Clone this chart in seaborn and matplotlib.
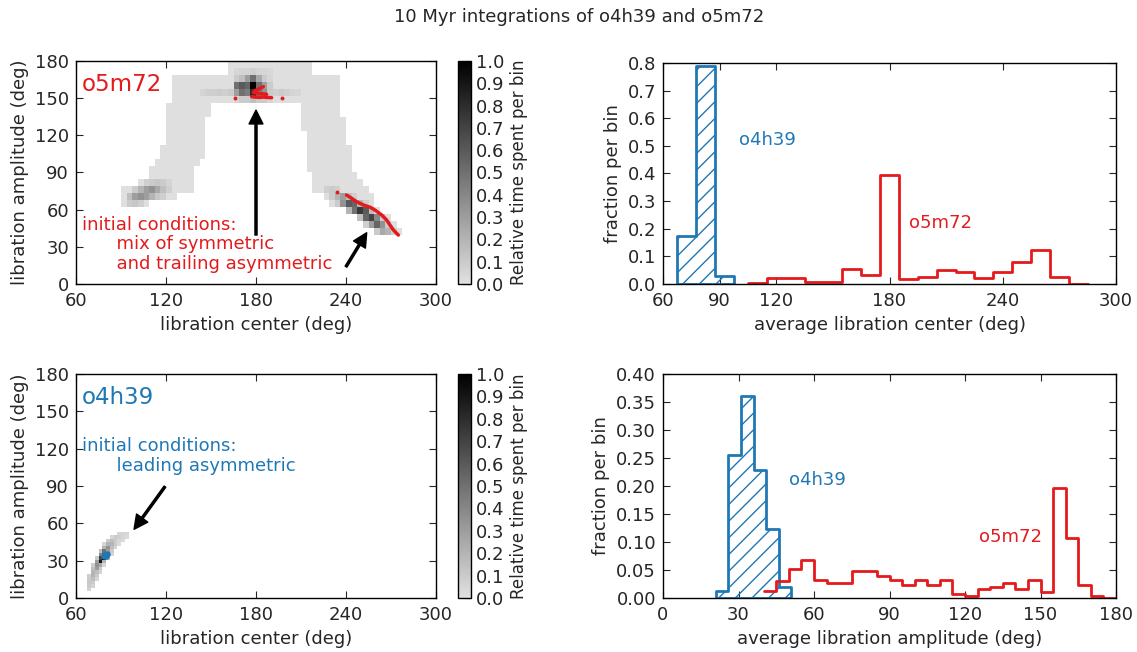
import numpy as np
import pandas as pd
import matplotlib
matplotlib.use('Agg')
import matplotlib.pyplot as plt
from matplotlib.colors import LinearSegmentedColormap
import seaborn as sns

RED = '#e41a1c'
BLUE = '#1f78b4'

# ---- 2D histogram of o5m72 (top left) ----
# bins of 3.75 deg in libration center (from 60) and 5.625 deg in amplitude (from 0)
TOP_DX, TOP_DY = 3.75, 5.625
TOP_BASE = 0.01
# (row, first col, last col) of faintly occupied bins
TOP_LIGHT = [
    (31, 27, 41), (30, 27, 41),
    (29, 17, 46), (28, 17, 46), (27, 17, 46), (26, 17, 46),
    (25, 16, 23), (25, 40, 46), (24, 16, 23), (24, 40, 46),
    (23, 16, 22), (23, 40, 47), (22, 16, 22), (22, 40, 47),
    (21, 16, 22), (21, 41, 47), (20, 16, 22), (20, 41, 47),
    (19, 15, 22), (19, 41, 48), (18, 15, 22), (18, 41, 48),
    (17, 14, 21), (17, 41, 48), (16, 13, 20), (16, 41, 48),
    (15, 13, 20), (15, 42, 49), (14, 11, 20), (14, 42, 50),
    (13, 8, 20), (13, 42, 51), (12, 8, 17), (12, 44, 52),
    (11, 8, 12), (11, 45, 52), (10, 48, 53), (9, 50, 55),
    (8, 51, 56), (7, 53, 57),
]
# (row, first col, values) of darker bins
TOP_DARK = [
    (30, 28, [0.05, 0.06, 0.06, 0.08, 0.06, 0.05, 0.04]),
    (29, 28, [0.1, 0.15, 0.3, 0.5, 0.25, 0.1, 0.05]),
    (28, 28, [0.5, 0.6, 0.55, 1.0, 0.5, 0.3, 0.1]),
    (27, 22, [0.06, 0.08, 0.08, 0.1, 0.08, 0.1, 0.3, 0.5, 0.45, 0.8, 0.45, 0.35, 0.1,
              0.08, 0.1, 0.08, 0.06, 0.05]),
    (26, 28, [0.05, 0.1, 0.1, 0.15, 0.1, 0.1, 0.05]),
    (14, 12, [0.08, 0.1, 0.12, 0.1, 0.06]),
    (13, 10, [0.1, 0.2, 0.3, 0.35, 0.25, 0.15, 0.08]),
    (12, 9, [0.15, 0.3, 0.35, 0.3, 0.2, 0.12, 0.08]),
    (11, 9, [0.1, 0.12, 0.08]),
    (13, 44, [0.08, 0.1, 0.08]),
    (12, 45, [0.1, 0.2, 0.3, 0.15, 0.08]),
    (11, 46, [0.1, 0.35, 0.6, 0.55, 0.2, 0.08]),
    (10, 48, [0.2, 0.5, 0.75, 0.6, 0.15]),
    (9, 50, [0.15, 0.55, 0.7, 0.4, 0.1]),
    (8, 51, [0.08, 0.3, 0.55, 0.35, 0.1]),
    (7, 53, [0.1, 0.25, 0.2, 0.08]),
]

# ---- 2D histogram of o4h39 (bottom left), finer bins ----
BOT_DX, BOT_DY = 2.5, 2.8125
BOT_ROWS = [
    (2, 3, [0.06]),
    (3, 3, [0.1, 0.06]),
    (4, 3, [0.12, 0.1]),
    (5, 3, [0.1, 0.15, 0.05]),
    (6, 3, [0.08, 0.2, 0.1]),
    (7, 4, [0.2, 0.15, 0.05]),
    (8, 4, [0.15, 0.3, 0.1]),
    (9, 4, [0.08, 0.35, 0.25, 0.05]),
    (10, 5, [0.3, 0.9, 0.2]),
    (11, 5, [0.1, 0.7, 1.0, 0.15]),
    (12, 6, [0.4, 0.6, 0.2, 0.05]),
    (13, 6, [0.15, 0.5, 0.3, 0.1]),
    (14, 7, [0.2, 0.35, 0.15, 0.05]),
    (15, 7, [0.05, 0.2, 0.2, 0.1, 0.03]),
    (16, 8, [0.1, 0.15, 0.1, 0.05, 0.03]),
    (17, 9, [0.05, 0.1, 0.08, 0.05, 0.03]),
    (18, 11, [0.05, 0.05, 0.05]),
]

# initial conditions
IC_RED_TOP_X = [184.9, 182.7, 179.3, 178.2, 181.5, 187.1]
IC_RED_TOP_Y = [159.3, 157.9, 156.1, 154.7, 153.9, 153.1]
IC_RED_BASE_X = [177.1, 180.0, 182.7, 185.0, 187.1, 190.4]
IC_RED_BASE_Y = [151.2, 150.8, 150.6, 150.9, 150.6, 150.4]
IC_RED_DIAG_X = [240.4, 243.8, 247.1, 251.6, 256.0, 259.3, 263.8, 267.1, 269.3, 271.6, 274.9]
IC_RED_DIAG_Y = [71.8, 69.1, 66.4, 63.8, 62.0, 59.7, 55.7, 51.6, 47.6, 43.6, 39.5]
IC_RED_DOT_X = [166.0, 197.6, 233.8]
IC_RED_DOT_Y = [150.4, 149.8, 74.0]
IC_BLUE_X = [78.5, 79.5, 80.5, 79.0, 80.0]
IC_BLUE_Y = [33.5, 34.5, 35.0, 34.8, 34.0]

# ---- 1D histograms ----
CENTER_BLUE_EDGES = [67.5, 77.5, 87.5, 97.5]
CENTER_BLUE_FRAC = [0.175, 0.79, 0.03]
CENTER_RED_EDGES = [105, 115, 125, 135, 145, 155, 165, 175, 185, 195,
                    205, 215, 225, 235, 245, 255, 265, 275, 285]
CENTER_RED_FRAC = [0.004, 0.023, 0.023, 0.007, 0.007, 0.055, 0.034, 0.394,
                   0.018, 0.027, 0.051, 0.043, 0.022, 0.043, 0.079, 0.122, 0.025, 0]

AMP_BLUE_EDGES = [21, 26, 31, 36, 41, 46, 51]
AMP_BLUE_FRAC = [0.0125, 0.255, 0.36, 0.229, 0.123, 0.019]
AMP_RED_EDGES = list(range(40, 185, 5))
AMP_RED_FRAC = [0.0125, 0.031, 0.051, 0.068, 0.032, 0.027, 0.027, 0.048, 0.048, 0.039,
                0.032, 0.023, 0.032, 0.023, 0.032, 0.008, 0.004, 0.016, 0.019, 0.027,
                0.016, 0.032, 0.011, 0.196, 0.108, 0.023, 0.004, 0]


def build_grid(nx, ny, light, dark, base):
    grid = np.zeros((ny, nx))
    for r, c0, c1 in light:
        grid[r, c0:c1 + 1] = base
    for r, c0, vals in dark:
        grid[r, c0:c0 + len(vals)] = vals
    return np.ma.masked_equal(grid, 0)


def step_hist(ax, edges, fracs, color, hatched=False):
    edges = [float(e) for e in edges]
    df = pd.DataFrame({
        'x': [(a + b) / 2 for a, b in zip(edges[:-1], edges[1:])],
        'w': [float(f) for f in fracs],
    })
    if hatched:
        sns.histplot(data=df, x='x', weights='w', bins=edges, element='step', fill=True,
                     facecolor='none', edgecolor=color, hatch='//', linewidth=2,
                     alpha=1, color=color, ax=ax)
    else:
        sns.histplot(data=df, x='x', weights='w', bins=edges, element='step', fill=False,
                     color=color, linewidth=2, ax=ax)


sns.set_style('ticks')
plt.rcParams.update({
    'font.family': ['DejaVu Sans'],
    'font.size': 13,
    'xtick.direction': 'in', 'ytick.direction': 'in',
    'xtick.top': True, 'ytick.right': True,
    'xtick.major.size': 5, 'ytick.major.size': 5,
    'axes.edgecolor': 'black', 'axes.linewidth': 1.0,
    'xtick.labelsize': 13, 'ytick.labelsize': 13,
    'axes.labelsize': 13,
})

W, H = 1137, 652
fig = plt.figure(figsize=(W / 100, H / 100), dpi=100)


def px_axes(x0, y0, x1, y1):
    return fig.add_axes([x0 / W, 1 - y1 / H, (x1 - x0) / W, (y1 - y0) / H])


ax_tl = px_axes(76, 61, 436, 284)
cax_t = px_axes(458, 61, 471, 284)
ax_tr = px_axes(663, 63, 1116, 284)
ax_bl = px_axes(76, 374, 436, 598)
cax_b = px_axes(458, 374, 471, 598)
ax_br = px_axes(663, 374, 1116, 598)

cmap = LinearSegmentedColormap.from_list('time_greys', ['#e1e1e1', '#000000'])

top_grid = build_grid(64, 32, TOP_LIGHT, TOP_DARK, TOP_BASE)
bot_grid = build_grid(96, 64, [], BOT_ROWS, 0.0)

for ax, grid, dx, dy, cax in [(ax_tl, top_grid, TOP_DX, TOP_DY, cax_t),
                              (ax_bl, bot_grid, BOT_DX, BOT_DY, cax_b)]:
    ny, nx = grid.shape
    xe = 60 + dx * np.arange(nx + 1)
    ye = dy * np.arange(ny + 1)
    mesh = ax.pcolormesh(xe, ye, grid, cmap=cmap, vmin=0, vmax=1)
    ax.set_xlim(60, 300)
    ax.set_ylim(0, 180)
    ax.set_xticks(np.arange(60, 301, 60))
    ax.set_yticks(np.arange(0, 181, 30))
    ax.set_xlabel('libration center (deg)')
    ax.set_ylabel('libration amplitude (deg)')
    cb = fig.colorbar(mesh, cax=cax, ticks=np.linspace(0, 1, 11))
    cb.ax.yaxis.set_major_formatter(matplotlib.ticker.FormatStrFormatter('%.1f'))
    cb.ax.tick_params(direction='in', length=4, labelsize=13, left=False, right=True)
    cb.set_label('Relative time spent per bin', fontsize=12)
    cb.outline.set_linewidth(1)

# initial conditions
sns.lineplot(x=IC_RED_TOP_X, y=IC_RED_TOP_Y, sort=False, estimator=None, color=RED,
             lw=2.5, ax=ax_tl)
sns.lineplot(x=IC_RED_BASE_X, y=IC_RED_BASE_Y, sort=False, estimator=None, color=RED,
             lw=2.5, ax=ax_tl)
sns.lineplot(x=IC_RED_DIAG_X, y=IC_RED_DIAG_Y, sort=False, estimator=None, color=RED,
             lw=2.5, ax=ax_tl)
sns.scatterplot(x=IC_RED_DOT_X, y=IC_RED_DOT_Y, color=RED, s=8, linewidth=0, ax=ax_tl)
sns.scatterplot(x=IC_BLUE_X, y=IC_BLUE_Y, color=BLUE, s=22, linewidth=0, ax=ax_bl)

arrow = dict(facecolor='black', edgecolor='black', width=1.5, headwidth=10,
             headlength=10, shrink=0)
ax_tl.text(64, 161, 'o5m72', color=RED, fontsize=16.5, va='center')
ax_tl.text(64, 55, 'initial conditions:\n      mix of symmetric\n      and trailing asymmetric',
           color=RED, va='top', linespacing=1.1)
ax_tl.annotate('', xy=(180, 140.4), xytext=(180, 39.5), arrowprops=arrow)
ax_tl.annotate('', xy=(253.8, 41.4), xytext=(240, 14), arrowprops=arrow)

ax_bl.text(64, 161, 'o4h39', color=BLUE, fontsize=16.5, va='center')
ax_bl.text(64, 129, 'initial conditions:\n      leading asymmetric',
           color=BLUE, va='top', linespacing=1.1)
ax_bl.annotate('', xy=(98.7, 55.2), xytext=(119.3, 89.5), arrowprops=arrow)

# 1D histograms
step_hist(ax_tr, CENTER_RED_EDGES, CENTER_RED_FRAC, RED)
step_hist(ax_tr, CENTER_BLUE_EDGES, CENTER_BLUE_FRAC, BLUE, hatched=True)
ax_tr.set_xlim(60, 300)
ax_tr.set_ylim(0, 0.8)
ax_tr.set_xticks([60, 90, 120, 180, 240, 300])
ax_tr.set_yticks(np.arange(0, 0.81, 0.1))
ax_tr.yaxis.set_major_formatter(matplotlib.ticker.FormatStrFormatter('%.1f'))
ax_tr.set_xlabel('average libration center (deg)')
ax_tr.set_ylabel('fraction per bin')
ax_tr.text(100.3, 0.52, 'o4h39', color=BLUE, va='center')
ax_tr.text(190.3, 0.22, 'o5m72', color=RED, va='center')

step_hist(ax_br, AMP_RED_EDGES, AMP_RED_FRAC, RED)
step_hist(ax_br, AMP_BLUE_EDGES, AMP_BLUE_FRAC, BLUE, hatched=True)
ax_br.set_xlim(0, 180)
ax_br.set_ylim(0, 0.4)
ax_br.set_xticks(np.arange(0, 181, 30))
ax_br.set_yticks(np.arange(0, 0.41, 0.05))
ax_br.yaxis.set_major_formatter(matplotlib.ticker.FormatStrFormatter('%.2f'))
ax_br.set_xlabel('average libration amplitude (deg)')
ax_br.set_ylabel('fraction per bin')
ax_br.text(50.2, 0.21, 'o4h39', color=BLUE, va='center')
ax_br.text(125.4, 0.109, 'o5m72', color=RED, va='center')

for ax in (ax_tl, ax_tr, ax_bl, ax_br):
    ax.tick_params(which='both', top=True, right=True, direction='in', length=5)
    ax.tick_params(axis='x', pad=6)
    ax.tick_params(axis='y', pad=5)

fig.text(0.509, 0.974, '10 Myr integrations of o4h39 and o5m72', ha='center',
         va='center', fontsize=13)

fig.savefig('out.png', dpi=100)
